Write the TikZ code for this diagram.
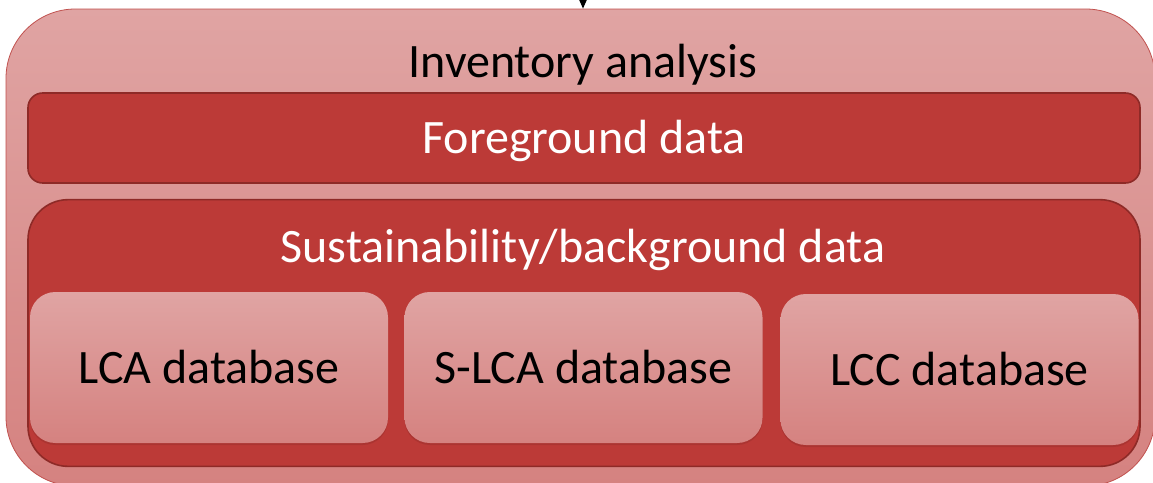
\documentclass[tikz,border=0pt]{standalone}
\usepackage{fontspec}
\setmainfont{Carlito}
\usetikzlibrary{arrows.meta,shadows}

\definecolor{paleRed}{HTML}{E0A4A3}
\definecolor{deepPink}{HTML}{D58280}
\definecolor{boxRed}{HTML}{BC3A37}
\definecolor{rimRed}{HTML}{8E2A27}
\definecolor{lineRed}{HTML}{C0504D}

\tikzset{
  layer/.style={draw=lineRed, line width=0.6pt, rounded corners=52pt,
    top color=paleRed, bottom color=deepPink},
  band/.style={draw=rimRed, line width=1.2pt, fill=boxRed, text=white},
  dbbox/.style={rounded corners=19pt, top color=paleRed, bottom color=deepPink,
    minimum width=268.5pt, minimum height=113.25pt,
    drop shadow={shadow xshift=0pt, shadow yshift=-1.5pt, opacity=0.35, fill=rimRed}},
  caption/.style={text=black}
}

\begin{document}
\begin{tikzpicture}[x=0.75pt,y=-0.75pt,
  every node/.style={inner sep=0pt, text height=27pt, text depth=3.75pt,
    font=\fontsize{36}{43}\selectfont}]
\useasboundingbox (0,0) rectangle (1153,482);
\clip (0,0) rectangle (1153,482);

% outer layer
\node[layer, minimum width=861.75pt, minimum height=357.75pt] (inventory) at (580.5,247.5) {};
\node[caption] (invtitle) at (583,61.5) {Inventory analysis};
\coordinate (feed) at (583,-40);
\draw[-{Triangle[length=10.5pt,width=9pt]}, line width=1pt] (feed) -- (inventory.north -| feed);

% foreground
\node[band, rounded corners=11pt, minimum width=834pt, minimum height=67.5pt] (foreground) at (584,138) {Foreground data};

% background
\node[band, rounded corners=30pt, minimum width=834pt, minimum height=200pt] (background) at (584,333) {};
\node[text=white] (bgtitle) at (583,246.5) {Sustainability/background data};

% databases
\node[dbbox] (lca) at (209,367.5) {LCA database};
\node[dbbox] (slca) at (583.5,367.5) {S-LCA database};
\node[dbbox] (lcc) at (959.5,369.5) {LCC database};
\end{tikzpicture}
\end{document}
